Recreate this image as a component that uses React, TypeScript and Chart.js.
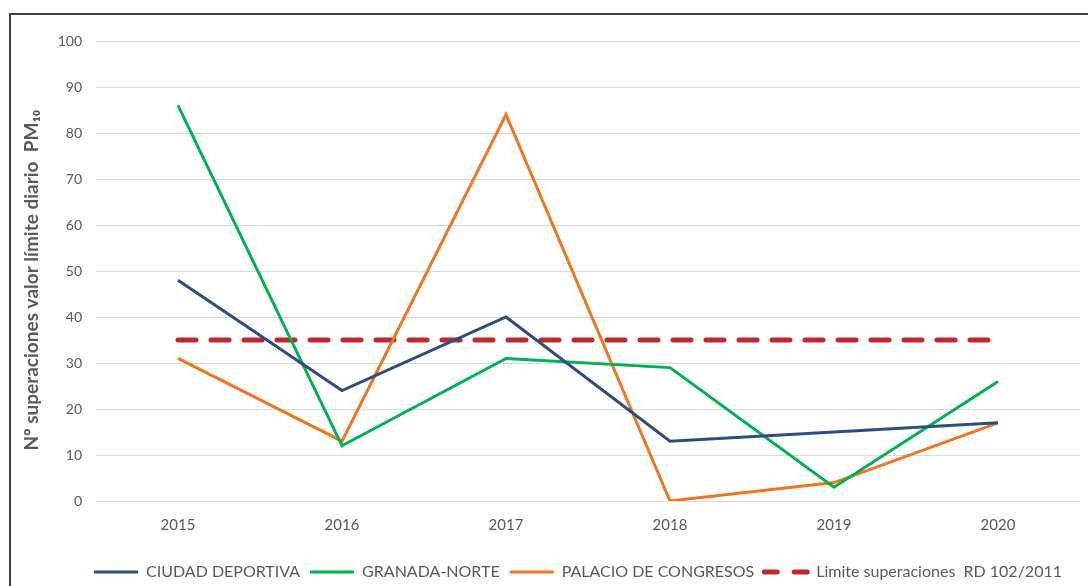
import React, { useEffect, useRef } from "react";
import { Chart, registerables } from "chart.js";

Chart.register(...registerables);

const years = ["2015", "2016", "2017", "2018", "2019", "2020"];
const ciudadDeportiva = [48, 24, 40, 13, 15, 17];
const granadaNorte = [86, 12, 31, 29, 3, 26];
const palacioCongresos = [31, 13, 84, 0, 4, 17];
const limite = [35, 35, 35, 35, 35, 35];
const yTicks = [0, 10, 20, 30, 40, 50, 60, 70, 80, 90, 100];

const FONT = "Lato, 'Open Sans', sans-serif";

const shiftLegend = {
  id: "shiftLegend",
  afterLayout(chart: any) {
    if (chart.legend) chart.legend.left += 60;
  },
};

export default function App() {
  const ref = useRef<HTMLCanvasElement | null>(null);
  useEffect(() => {
    document.body.style.margin = "0";
    const ctx = ref.current!;
    const chart = new Chart(ctx, {
      type: "line",
      data: {
        labels: years,
        datasets: [
          { label: "CIUDAD DEPORTIVA", data: ciudadDeportiva, borderColor: "#2E4D7F", backgroundColor: "#2E4D7F", borderWidth: 3, pointRadius: 0, tension: 0 },
          { label: "GRANADA-NORTE", data: granadaNorte, borderColor: "#00B050", backgroundColor: "#00B050", borderWidth: 3, pointRadius: 0, tension: 0 },
          { label: "PALACIO DE CONGRESOS", data: palacioCongresos, borderColor: "#EE7623", backgroundColor: "#EE7623", borderWidth: 3, pointRadius: 0, tension: 0 },
          { label: "Limite superaciones  RD 102/2011", data: limite, borderColor: "#C0272D", backgroundColor: "#C0272D", borderWidth: 5, borderDash: [18, 15], borderCapStyle: "round", pointRadius: 0, tension: 0 },
        ],
      },
      options: {
        animation: false,
        responsive: false,
        maintainAspectRatio: false,
        layout: { padding: { left: 16, right: 8, top: 41, bottom: -4 } },
        plugins: {
          tooltip: { enabled: false },
          legend: {
            position: "bottom",
            align: "center",
            labels: {
              usePointStyle: true,
              pointStyle: "line",
              pointStyleWidth: 44,
              boxHeight: 4,
              padding: 10,
              color: "#595959",
              font: { family: FONT, size: 16 },
              generateLabels: (c: any) => {
                const items = (Chart as any).defaults.plugins.legend.labels.generateLabels(c);
                items.forEach((it: any, i: number) => {
                  const ds = c.data.datasets[i];
                  it.lineWidth = ds.borderWidth;
                  it.strokeStyle = ds.borderColor;
                  if (ds.borderDash) {
                    it.lineDash = [13, 17];
                    it.lineCap = "round";
                  }
                });
                return items;
              },
            },
          },
        },
        scales: {
          x: {
            type: "category",
            offset: true,
            grid: { display: false, drawTicks: false },
            border: { display: false },
            ticks: { color: "#595959", font: { family: FONT, size: 15 }, padding: 15 },
            afterFit: (axis: any) => { axis.height = 53; },
          },
          y: {
            min: 0,
            max: 100,
            afterBuildTicks: (axis: any) => { axis.ticks = yTicks.map((v) => ({ value: v })); },
            grid: { color: "#D9D9D9", lineWidth: 1, drawTicks: false },
            border: { display: false },
            ticks: { color: "#595959", font: { family: FONT, size: 14 }, padding: 14 },
            title: {
              display: true,
              text: "Nº superaciones valor límite diario  PM₁₀    ",
              color: "#595959",
              font: { family: FONT, size: 19, weight: "bold" },
              padding: { top: 4, bottom: 4 },
            },
            afterFit: (axis: any) => { axis.width = 80; },
          },
        },
      },
      plugins: [shiftLegend],
    } as any);
    return () => chart.destroy();
  }, []);
  return (
    <div style={{ position: "relative", width: 1088, height: 586, overflow: "hidden", background: "#fff" }}>
      <canvas ref={ref} width={1088} height={586} style={{ position: "absolute", left: 0, top: 0, width: 1088, height: 586 }} />
      <div style={{ position: "absolute", left: 9, top: 13, width: 1200, height: 700, border: "2px solid #404040", pointerEvents: "none" }} />
    </div>
  );
}
